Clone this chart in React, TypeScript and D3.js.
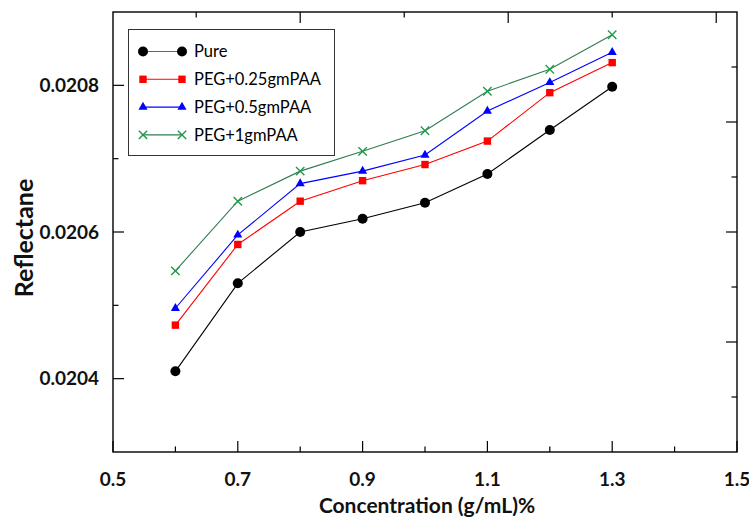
import React from "react";
import * as d3 from "d3";

const concentration = [0.6, 0.7, 0.8, 0.9, 1.0, 1.1, 1.2, 1.3];

const pure = [0.02041, 0.02053, 0.0206, 0.020618, 0.02064, 0.020679, 0.020739, 0.020798];
const peg025 = [0.020473, 0.020583, 0.020642, 0.02067, 0.020692, 0.020724, 0.02079, 0.020831];
const peg05 = [0.020496, 0.020596, 0.020666, 0.020683, 0.020705, 0.020765, 0.020804, 0.020845];
const peg1 = [0.020547, 0.020642, 0.020683, 0.02071, 0.020738, 0.020792, 0.020822, 0.020869];

const seriesNames = ["Pure", "PEG+0.25gmPAA", "PEG+0.5gmPAA", "PEG+1gmPAA"];

const xMajorTicks = [0.5, 0.7, 0.9, 1.1, 1.3, 1.5];
const xMinorTicks = [0.6, 0.8, 1.0, 1.2, 1.4];
const yMajorTicks = [0.0204, 0.0206, 0.0208];
const yMinorTicks = [0.0205, 0.0207];
// the top and right frame ticks do not line up with the bottom/left axes
const topTicks = [0.6333, 0.8, 0.9667, 1.1333, 1.3, 1.4667];
const rightTicks = [0.020375, 0.02045, 0.020525, 0.0206, 0.020675, 0.02075, 0.020825];

const W = 749;
const H = 519;
const left = 113;
const right = 737;
const top = 12;
const bottom = 452;

const GREEN = "#1f9a48";

const styles = [
  { color: "#000", line: "#000", legendLine: "#666", marker: "circle" },
  { color: "#ff0000", line: "#ff0000", legendLine: "#ff0000", marker: "square" },
  { color: "#0000ff", line: "#0000ff", legendLine: "#0000ff", marker: "triangle" },
  { color: GREEN, line: "#2f7d4f", legendLine: "#2f7d4f", marker: "cross" },
];

const Marker = ({ type, x, y, color }: { type: string; x: number; y: number; color: string }) => {
  if (type === "circle") return <circle cx={x} cy={y} r={5} fill={color} />;
  if (type === "square") return <rect x={x - 3.7} y={y - 3.7} width={7.4} height={7.4} fill={color} />;
  if (type === "triangle") {
    const p = d3.symbol().type(d3.symbolTriangle).size(36)();
    return <path d={p || ""} transform={`translate(${x},${y})`} fill={color} />;
  }
  const s = 4.2;
  return (
    <path
      d={`M${x - s},${y - s}L${x + s},${y + s}M${x - s},${y + s}L${x + s},${y - s}`}
      stroke={color}
      strokeWidth={1.4}
      fill="none"
    />
  );
};

export default function App() {
  const x = d3.scaleLinear().domain([0.5, 1.5]).range([left, right]);
  const y = d3.scaleLinear().domain([0.0203, 0.0209]).range([bottom, top]);

  const data = [pure, peg025, peg05, peg1];
  const line = d3
    .line<number>()
    .x((_, i) => x(concentration[i]))
    .y((d) => y(d));

  const font = "Lato, 'Liberation Sans', sans-serif";
  const major = 11;
  const minor = 5.5;

  return (
    <svg width={W} height={H} style={{ position: "absolute", left: 0, top: 0, background: "#fff" }}>
      {/* series */}
      {data.map((vals, si) => (
        <g key={si}>
          <path d={line(vals) || ""} fill="none" stroke={styles[si].line} strokeWidth={1.1} />
          {vals.map((v, i) => (
            <Marker key={i} type={styles[si].marker} x={x(concentration[i])} y={y(v)} color={styles[si].color} />
          ))}
        </g>
      ))}

      {/* ticks */}
      <g stroke="#000" strokeWidth={1.2}>
        {xMajorTicks.map((t) => (
          <line key={"bx" + t} x1={x(t)} x2={x(t)} y1={bottom} y2={bottom - major} />
        ))}
        {xMinorTicks.map((t) => (
          <line key={"bm" + t} x1={x(t)} x2={x(t)} y1={bottom} y2={bottom - minor} />
        ))}
        {topTicks.map((t, i) => (
          <line key={"tx" + t} x1={x(t)} x2={x(t)} y1={top} y2={top + (i % 2 === 1 ? major : minor)} />
        ))}
        {yMajorTicks.map((t) => (
          <line key={"ly" + t} x1={left} x2={left + major} y1={y(t)} y2={y(t)} />
        ))}
        {yMinorTicks.map((t) => (
          <line key={"lm" + t} x1={left} x2={left + minor} y1={y(t)} y2={y(t)} />
        ))}
        {rightTicks.map((t, i) => (
          <line key={"ry" + t} x1={right} x2={right - (i % 2 === 1 ? major : minor)} y1={y(t)} y2={y(t)} />
        ))}
      </g>

      {/* frame */}
      <rect x={left} y={top} width={right - left} height={bottom - top} fill="none" stroke="#000" strokeWidth={1.4} />

      {/* tick labels */}
      <g fontFamily={font} fontWeight="bold" fontSize={19} fill="#111">
        {xMajorTicks.map((t) => (
          <text key={"xl" + t} x={x(t)} y={486} textAnchor="middle">
            {d3.format(".1f")(t)}
          </text>
        ))}
        {yMajorTicks.map((t) => (
          <text key={"yl" + t} x={99} y={y(t)} dy="0.35em" textAnchor="end">
            {d3.format(".4f")(t)}
          </text>
        ))}
      </g>

      {/* axis titles */}
      <text x={(left + right) / 2 + 2} y={513} textAnchor="middle" fontFamily={font} fontWeight="bold" fontSize={21} fill="#111">
        Concentration (g/mL)%
      </text>
      <text
        transform={`translate(33,238) rotate(-90)`}
        textAnchor="middle"
        fontFamily={font}
        fontWeight="bold"
        fontSize={25}
        fill="#111"
      >
        Reflectane
      </text>

      {/* legend */}
      <rect x={128.5} y={29.5} width={206} height={126} fill="#fff" stroke="#333" strokeWidth={1} />
      {seriesNames.map((name, i) => {
        const ly = 51.5 + i * 27.8;
        return (
          <g key={name}>
            <line x1={143} x2={182} y1={ly} y2={ly} stroke={styles[i].legendLine} strokeWidth={1.1} />
            <Marker type={styles[i].marker} x={143} y={ly} color={styles[i].color} />
            <Marker type={styles[i].marker} x={182} y={ly} color={styles[i].color} />
            <text x={194} y={ly} dy="0.36em" fontFamily={font} fontSize={16.5} fill="#000">
              {name}
            </text>
          </g>
        );
      })}
    </svg>
  );
}
